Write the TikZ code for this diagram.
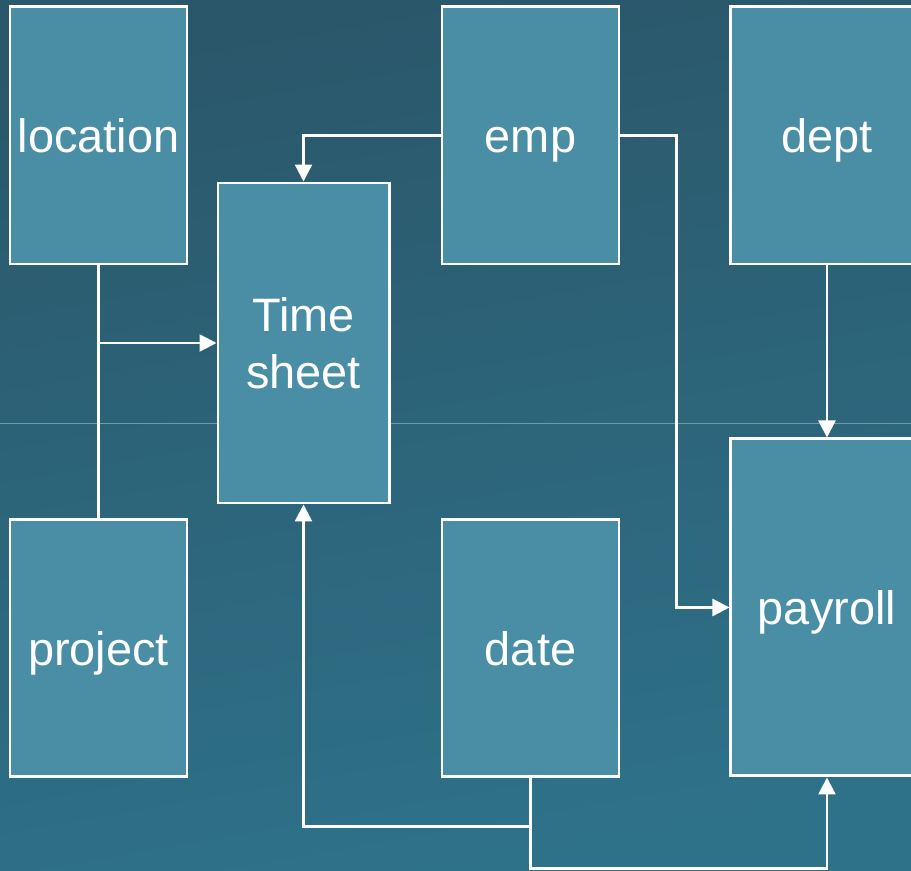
\documentclass[tikz,border=0pt]{standalone}
\usepackage{fontspec}
\setmainfont{Liberation Sans}
\usepackage{xcolor}
\usepackage{tikz}
\usetikzlibrary{
	arrows.meta,
	positioning,
	calc
}
\definecolor{bgtop}{RGB}{43,87,106}
\definecolor{bgbot}{RGB}{46,114,138}
\definecolor{boxfill}{RGB}{74,142,166}

\begin{document}
\begin{tikzpicture}[
				table/.style={
					rectangle, draw=white, line width=1.7pt, fill=boxfill,
					minimum width=3.54cm, minimum height=5.14cm,
					align=center, text=white,
					text height=19.5pt, text depth=0pt,
					font=\fontsize{26.7pt}{32.4pt}\selectfont
				},
				widetable/.style={
					table, minimum width=3.84cm
				},
				arrow/.style={-{Triangle[length=0.34cm,width=0.34cm]}, line width=1.4pt, white},
				link/.style={line width=1.4pt, white}
				]
				
				% background
				\clip (0,0) rectangle (18.22,-17.42);
				\shade[top color=bgtop, bottom color=bgbot, shading angle=10] (0,0) rectangle (18.22,-17.42);
				\draw[white!30!bgbot, line width=0.5pt] (0,-8.46) -- (18.22,-8.46);
				
				% location
				\node[table] (location) at (1.97,-2.71) {location};
				
				% project
				\node[table, below=5.06cm of location] (project) {project};
				
				% emp
				\node[table, right=5.04cm of location] (emp) {emp};
				
				% date
				\node[table, below=5.06cm of emp] (date) {date};
				
				% dept
				\node[widetable, right=2.18cm of emp] (dept) {dept};
				
				% payroll
				\node[widetable, minimum height=6.74cm, below=3.44cm of dept] (payroll) {payroll};
				
				% time sheet
				\node[table, text height={}, text depth={}, minimum width=3.42cm, minimum height=6.4cm] (timesheet) at (6.07,-6.86) {Time\\sheet};
				
				% connectors
				\coordinate (join) at (location.south |- timesheet.west);
				\draw[link] (location) -- (project);
				\draw[arrow] (join) -- (timesheet.west);
				\draw[arrow] (emp.west) -| (timesheet.north);
				\draw[arrow] (emp.east) -- ++(1.12,0) |- (payroll.west);
				\draw[arrow] (dept) -- (payroll);
				\draw[arrow] (date.south) -- ++(0,-0.96) -| (timesheet.south);
				\draw[arrow] (date.south) -- ++(0,-1.8) -| (payroll.south);
			\end{tikzpicture}
\end{document}
